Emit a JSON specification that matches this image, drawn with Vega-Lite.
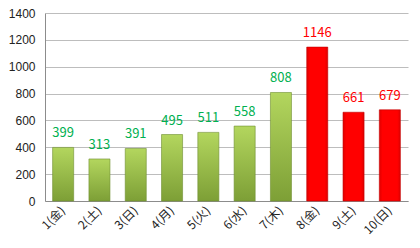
{
  "$schema": "https://vega.github.io/schema/vega-lite/v6.json",
  "autosize": {"type": "none"},
  "width": 363,
  "height": 188,
  "padding": {"left": 45, "top": 13, "right": 12, "bottom": 47},
  "background": "white",
  "data": {"values": [
    {"day": "1(金)", "v": 399, "g": "a"},
    {"day": "2(土)", "v": 313, "g": "a"},
    {"day": "3(日)", "v": 391, "g": "a"},
    {"day": "4(月)", "v": 495, "g": "a"},
    {"day": "5(火)", "v": 511, "g": "a"},
    {"day": "6(水)", "v": 558, "g": "a"},
    {"day": "7(木)", "v": 808, "g": "a"},
    {"day": "8(金)", "v": 1146, "g": "b"},
    {"day": "9(土)", "v": 661, "g": "b"},
    {"day": "10(日)", "v": 679, "g": "b"}
  ]},
  "encoding": {
    "x": {"field": "day", "type": "nominal", "sort": null,
      "scale": {"paddingInner": 0.42, "paddingOuter": 0.21},
      "axis": {"title": null, "labelAngle": -45, "labelAlign": "right", "labelBaseline": "middle",
        "labelPadding": 7, "ticks": false, "domainColor": "#8c8c8c", "labelFont": "Noto Sans CJK JP",
        "labelFontSize": 12, "labelColor": "#222222"}},
    "y": {"field": "v", "type": "quantitative",
      "scale": {"domain": [0, 1400]},
      "axis": {"title": null, "values": [0, 200, 400, 600, 800, 1000, 1200, 1400], "format": "d", "ticks": false,
        "labelPadding": 10, "domainColor": "#8c8c8c", "gridColor": "#bdbdbd", "labelFont": "Liberation Sans",
        "labelFontSize": 12, "labelColor": "#222222"}}
  },
  "layer": [
    {"transform": [{"filter": "datum.g == 'a'"}],
     "mark": {"type": "bar", "stroke": "#6f8f30", "strokeWidth": 0.6,
       "fill": {"gradient": "linear", "x1": 0, "y1": 0, "x2": 0, "y2": 1,
         "stops": [{"offset": 0, "color": "#b3d65e"}, {"offset": 1, "color": "#7d9f36"}]}}},
    {"transform": [{"filter": "datum.g == 'b'"}],
     "mark": {"type": "bar", "stroke": "#c00000", "strokeWidth": 0.6,
       "fill": {"gradient": "linear", "x1": 0, "y1": 0, "x2": 1, "y2": 0,
         "stops": [{"offset": 0, "color": "#e00000"}, {"offset": 0.15, "color": "#ff0000"}, {"offset": 0.85, "color": "#ff0000"}, {"offset": 1, "color": "#e00000"}]}}},
    {"mark": {"type": "text", "dy": -10, "baseline": "alphabetic", "font": "Noto Sans CJK JP", "fontSize": 13},
     "encoding": {
       "text": {"field": "v", "type": "quantitative"},
       "color": {"field": "g", "type": "nominal", "scale": {"domain": ["a", "b"], "range": ["#00b050", "#ff0000"]}, "legend": null}
     }}
  ],
  "config": {"view": {"stroke": null}}
}
